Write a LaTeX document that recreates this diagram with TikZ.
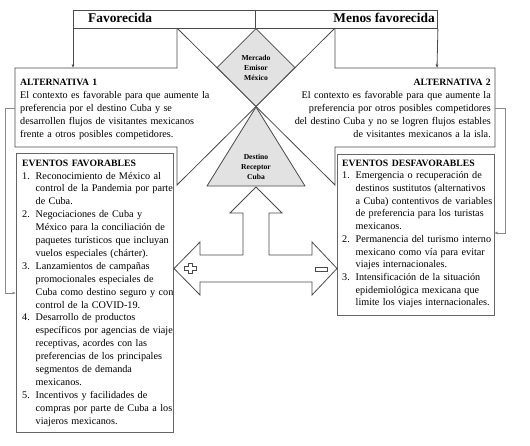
\documentclass[tikz,border=0pt]{standalone}
\usepackage{fontspec}
\setmainfont{Liberation Serif}
\usetikzlibrary{shapes.geometric,arrows.meta}
\definecolor{lineg}{HTML}{4A4A4A}
\definecolor{boxg}{HTML}{666666}
\definecolor{conng}{HTML}{8A8A8A}
\definecolor{fillg}{HTML}{E2E2E2}
\newcommand\numit[2]{\makebox[13.5pt][l]{#1}#2}
\newcommand\contl[1]{\hspace*{13.5pt}#1}
\newcommand\hd[1]{{\bfseries\fontsize{9.7}{12.9}\selectfont #1}}
\begin{document}
\begin{tikzpicture}[x=1pt,y=-1pt,
  bar/.style={draw=lineg, line width=0.9pt, minimum width=182pt, minimum height=18pt, inner sep=0, anchor=north west},
  bartext/.style={font=\fontsize{13.4}{15}\selectfont\bfseries, inner sep=0},
  outline/.style={draw=lineg, line width=0.8pt},
  evbox/.style={draw=boxg, line width=0.9pt, inner sep=0, anchor=north west},
  bodytext/.style={inner sep=0, text width=200pt},
  shapefill/.style={draw=lineg, fill=fillg, line width=0.8pt},
  smalltext/.style={font=\fontsize{7.6}{10}\selectfont\bfseries, align=center, inner sep=0},
  conn/.style={draw=conng, line width=0.8pt},
  arr/.style={-{Latex[length=3.5pt,width=3pt]}}
]
\useasboundingbox (0,0) rectangle (530,445);
\fill[white] (0,0) rectangle (530,445);

% top bar
\node[bar] (fav) at (73,10) {};
\node[bar] (menos) at (255,10) {};
\node[bartext, anchor=base west] (favt) at (88,22) {Favorecida};
\node[bartext, anchor=base east] (menost) at (435,22) {Menos favorecida};

% bracket outlines forming the X
\draw[outline] (177,28) -- (177,68) -- (15,68) -- (15,147) -- (177,147) -- (177,185) -- (335,28);
\draw[outline] (335,28) -- (335,68) -- (495,68) -- (495,147) -- (335,147) -- (335,185) -- (177,28);

% arrows from bar
\coordinate (alt1top) at (73,68);
\coordinate (alt2top) at (437,68);
\draw[outline, arr] (fav.south west) -- (alt1top);
\draw[outline, arr] (menos.south east) -- (alt2top);

% alternative texts
\node[bodytext, anchor=north west, align=left, font=\fontsize{10.2}{13}\selectfont] (alt1) at (20,78.5) {%
\hd{ALTERNATIVA 1}\\
El contexto es favorable para que aumente la\\
preferencia por el destino Cuba y se\\
desarrollen flujos de visitantes mexicanos\\
frente a otros posibles competidores.};
\node[bodytext, anchor=north east, align=right, font=\fontsize{10.2}{13}\selectfont] (alt2) at (491,78.5) {%
\hd{ALTERNATIVA 2}\\
El contexto es favorable para que aumente la\\
preferencia por otros posibles competidores\\
del destino Cuba y no se logren flujos estables\\
de visitantes mexicanos a la isla.};

% event boxes
\node[evbox, minimum width=157pt, minimum height=279pt] (favbox) at (16,153) {};
\node[evbox, minimum width=157pt, minimum height=161pt] (desbox) at (337,154) {};

\node[bodytext, anchor=north west, align=left, font=\fontsize{10.2}{12.9}\selectfont] (favtxt) at (22,159.5) {%
\hd{EVENTOS FAVORABLES}\\
\numit{1.}{Reconocimiento de México al}\\
\contl{control de la Pandemia por parte}\\
\contl{de Cuba.}\\
\numit{2.}{Negociaciones de Cuba y}\\
\contl{México para la conciliación de}\\
\contl{paquetes turísticos que incluyan}\\
\contl{vuelos especiales (chárter).}\\
\numit{3.}{Lanzamientos de campañas}\\
\contl{promocionales especiales de}\\
\contl{Cuba como destino seguro y con}\\
\contl{control de la COVID-19.}\\
\numit{4.}{Desarrollo de productos}\\
\contl{específicos por agencias de viaje}\\
\contl{receptivas, acordes con las}\\
\contl{preferencias de los principales}\\
\contl{segmentos de demanda}\\
\contl{mexicanos.}\\
\numit{5.}{Incentivos y facilidades de}\\
\contl{compras por parte de Cuba a los}\\
\contl{viajeros mexicanos.}};

\node[bodytext, anchor=north west, align=left, font=\fontsize{10.2}{12.7}\selectfont] (destxt) at (342,159.5) {%
\hd{EVENTOS DESFAVORABLES}\\
\numit{1.}{Emergencia o recuperación de}\\
\contl{destinos sustitutos (alternativos}\\
\contl{a Cuba) contentivos de variables}\\
\contl{de preferencia para los turistas}\\
\contl{mexicanos.}\\
\numit{2.}{Permanencia del turismo interno}\\
\contl{mexicano como vía para evitar}\\
\contl{viajes internacionales.}\\
\numit{3.}{Intensificación de la situación}\\
\contl{epidemiológica mexicana que}\\
\contl{limite los viajes internacionales.}};

% side connectors
\coordinate (alt1w) at (15,108);
\coordinate (favin) at (16,293);
\coordinate (alt2e) at (495,108);
\coordinate (desin) at (494,233);
\draw[conn, arr] (alt1w) -- (5,108) -- (5,293) -- (favin);
\draw[conn, arr] (alt2e) -- (505,108) -- (505,233) -- (desin);

% diamond and triangle
\node[diamond, shapefill, minimum width=78pt, minimum height=78pt, inner sep=0, smalltext] (mer) at (256,67.5) {Mercado\\Emisor\\México};
\draw[shapefill] (256,107) -- (305,186) -- (207,186) -- cycle;
\node[smalltext] (dest) at (256,167) {Destino\\Receptor\\Cuba};

% three-headed arrow
\draw[outline, fill=white] (256,187) -- (282,213) -- (269,213) -- (269,255) -- (312,255) -- (312,242) -- (337,268.5) -- (312,295) -- (312,282) -- (200,282) -- (200,295) -- (174,268.5) -- (200,242) -- (200,255) -- (243,255) -- (243,213) -- (230,213) -- cycle;

% plus and minus
\draw[outline, line width=0.6pt] (188.5,263.5) -- (192.5,263.5) -- (192.5,266.5) -- (196.5,266.5) -- (196.5,270) -- (192.5,270) -- (192.5,273) -- (188.5,273) -- (188.5,270) -- (184.5,270) -- (184.5,266.5) -- (188.5,266.5) -- cycle;
\draw[outline, line width=0.6pt] (315,267) rectangle (327,271);
\end{tikzpicture}
\end{document}
